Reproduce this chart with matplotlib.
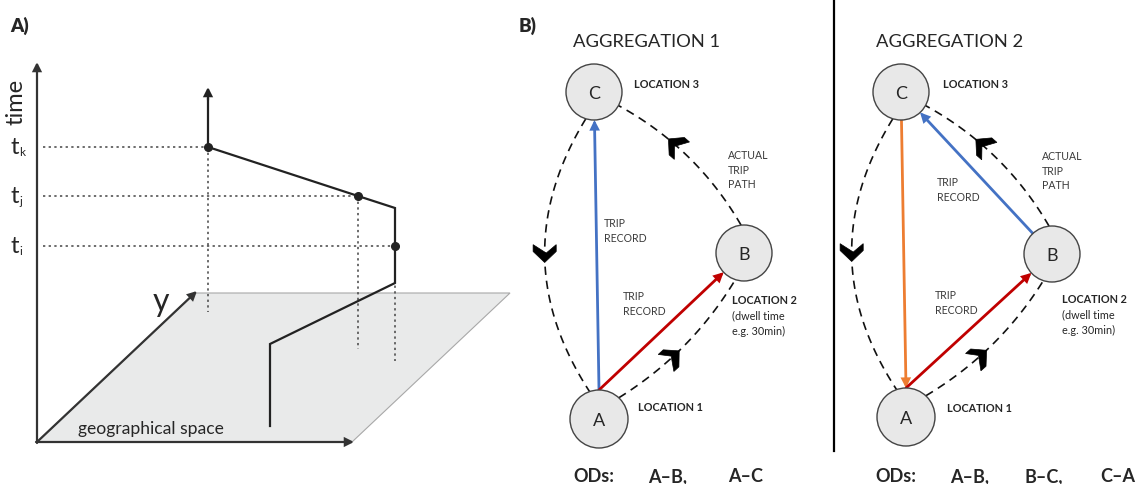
import numpy as np
import matplotlib
matplotlib.use("Agg")
import matplotlib.pyplot as plt
from matplotlib.patches import Circle, Polygon, FancyArrowPatch

plt.rcParams['font.family'] = ['Lato', 'DejaVu Sans']

# ---------------- content ----------------
panel_labels = ["A)", "B)"]
time_labels = ["k", "j", "i"]          # subscripts of t
agg_titles = ["AGGREGATION 1", "AGGREGATION 2"]
node_names = ["A", "B", "C"]
location_labels = {"A": ["LOCATION 1"], "B": ["LOCATION 2", "(dwell time", "e.g. 30min)"], "C": ["LOCATION 3"]}
path_label = ["ACTUAL", "TRIP", "PATH"]
record_label = ["TRIP", "RECORD"]
od_lists = [["ODs:", "A\u2013B,", "A\u2013C"], ["ODs:", "A\u2013B,", "B\u2013C,", "C\u2013A"]]
# trip records per aggregation: (origin, destination, colour)
trip_records = [[("A", "C", "#4472c4"), ("A", "B", "#c00000")],
                [("C", "A", "#ed7d31"), ("B", "C", "#4472c4"), ("A", "B", "#c00000")]]

W, H = 1138, 485
fig = plt.figure(figsize=(W / 100, H / 100), dpi=100)
ax = fig.add_axes([0, 0, 1, 1])
ax.set_xlim(0, W)
ax.set_ylim(H, 0)
ax.axis('off')

TXT = '#262626'

# ================= Panel A =================
ax.text(10, 26, panel_labels[0], fontsize=13.5, fontweight='heavy', color=TXT, va='center', ha='left')

# plane
plane = Polygon([(37, 443), (352, 443), (510, 294), (195, 294)], closed=True,
                facecolor='#e9eaea', edgecolor='#a8a8a8', lw=0.8, zorder=1)
ax.add_patch(plane)

axc = '#333333'
def arrow(p0, p1, color, lw, ms=12, z=3, style='-|>'):
    a = FancyArrowPatch(p0, p1, arrowstyle=style, mutation_scale=ms, color=color,
                        lw=lw, shrinkA=0, shrinkB=0, zorder=z, joinstyle='miter')
    ax.add_patch(a)

arrow((37, 444), (37, 63), axc, 1.6)
arrow((36, 443), (354, 443), axc, 1.6)
arrow((37, 443), (197, 292), axc, 1.6)

ax.text(16, 102, "time", fontsize=17, rotation=90, color=TXT, va='center', ha='center')
ax.text(161, 302, "y", fontsize=23, color=TXT, va='center', ha='center')
ax.text(78, 429, "geographical space", fontsize=12.6, color=TXT, va='center', ha='left')

# time marks
t_y = [148, 197, 247]
t_x = [208, 358, 395]
v_end = [313, 350, 362]
for lab, ty, tx, ve in zip(time_labels, t_y, t_x, v_end):
    ax.text(11, ty, "t", fontsize=17, color=TXT, va='center', ha='left')
    ax.text(19.5, ty + 5, lab, fontsize=8.5, color=TXT, va='center', ha='left')
    ax.plot([43, tx], [ty, ty], color='#444444', lw=1.1, ls=(0, (1.5, 2.2)), zorder=2)
    ax.plot([tx, tx], [ty, ve], color='#444444', lw=1.1, ls=(0, (1.5, 2.2)), zorder=2)

traj_x = [270, 270, 395, 395, 358, 208, 208]
traj_y = [427, 345, 284, 209, 197, 148, 100]
ax.plot(traj_x, traj_y, color='#222222', lw=1.6, zorder=4, solid_joinstyle='miter')
arrow((208, 101), (208, 88), '#222222', 1.6, ms=12, z=4)
ax.plot(t_x, t_y, 'o', color='#222222', ms=5.5, zorder=5)

# ================= Panel B =================
ax.text(519, 26, panel_labels[1], fontsize=13.5, fontweight='heavy', color=TXT, va='center', ha='left')
ax.plot([834, 834], [0, 452], color='black', lw=1.6)

layouts = [
    dict(title=(647, 42), nodes={"C": (594, 93, 28), "B": (744, 254, 28), "A": (599, 420, 29)},
         loc={"C": (634, 85), "B": (732, 301), "A": (638, 408)}, path=(728, 156),
         records=[(604, 224), (623, 297)], ods=[573, 648, 728], od_y=477),
    dict(title=(950, 42), nodes={"C": (901, 93, 28), "B": (1052, 255, 28), "A": (906, 418, 29)},
         loc={"C": (943, 85), "B": (1062, 300), "A": (947, 409)}, path=(1042, 157),
         records=[(937, 183), (935, 296)], ods=[875, 950, 1025, 1100], od_y=477),
]

def circ_pt(node, ang):
    x, y, r = node
    a = np.deg2rad(ang)
    return np.array([x + r * np.cos(a), y + r * np.sin(a)])

def edge_toward(node, p):
    x, y, r = node
    d = np.array(p, float) - np.array([x, y])
    d /= np.hypot(*d)
    return np.array([x, y]) + r * d

def bezier(p0, p2, bulge, n=80):
    p0, p2 = np.asarray(p0, float), np.asarray(p2, float)
    m = (p0 + p2) / 2
    d = p2 - p0
    perp = np.array([-d[1], d[0]]) / np.hypot(*d)
    c = m + perp * bulge
    t = np.linspace(0, 1, n)[:, None]
    pts = (1 - t) ** 2 * p0 + 2 * (1 - t) * t * c + t ** 2 * p2
    return pts, c

def bez_at(p0, c, p2, t):
    pt = (1 - t) ** 2 * p0 + 2 * (1 - t) * t * c + t ** 2 * p2
    tan = 2 * (1 - t) * (c - p0) + 2 * t * (p2 - c)
    return pt, tan / np.hypot(*tan)

def chevron(pt, direction, size=1.0):
    f = np.asarray(direction)
    s = np.array([-f[1], f[0]])
    local = [(-8, -11), (0, -1.5), (-8, 11), (-1.5, 11), (9, 0), (-1.5, -11)]
    verts = [pt + size * (a * f + b * s) for a, b in local]
    ax.add_patch(Polygon(verts, closed=True, facecolor='black', edgecolor='black', lw=0.5,
                         joinstyle='miter', zorder=6))

# dashed path definitions: (from, from_angle, to, to_angle, bulge, chevron t)
dashed = [("C", 107, "A", -109, 86, 0.49),
          ("A", -47, "B", 108, 20, 0.40),
          ("B", -96, "C", 29, 24, 0.60)]

for k, L in enumerate(layouts):
    N = L["nodes"]
    ax.text(L["title"][0], L["title"][1], agg_titles[k], fontsize=13.2, color=TXT, ha='center', va='center')
    # dashed actual path
    for fr, fa, to, ta, bul, tc in dashed:
        p0 = circ_pt(N[fr], fa)
        p2 = circ_pt(N[to], ta)
        pts, c = bezier(p0, p2, bul)
        ax.plot(pts[:, 0], pts[:, 1], color='#111111', lw=1.2, ls=(0, (5, 3.5)), zorder=2)
        pt, tan = bez_at(p0, c, p2, tc)
        chevron(pt, tan, 1.05)
    # trip records
    for o, d, col in trip_records[k]:
        if o == "A":
            start = circ_pt(N["A"], -90)
            end = edge_toward(N[d], start)
        elif d == "A":
            end = circ_pt(N["A"], -90)
            start = edge_toward(N[o], end)
        else:
            start = edge_toward(N[o], N[d][:2])
            end = edge_toward(N[d], N[o][:2])
        arrow(tuple(start), tuple(end), col, 2.0, ms=11, z=3)
    # nodes
    for nm in node_names:
        x, y, r = N[nm]
        ax.add_patch(Circle((x, y), r, facecolor='#e8e8e8', edgecolor='#444444', lw=1.0, zorder=7))
        ax.text(x, y + 1, nm, fontsize=13, color=TXT, ha='center', va='center', zorder=8)
    # location labels
    for nm in node_names:
        lx, ly = L["loc"][nm]
        for i, s in enumerate(location_labels[nm]):
            ax.text(lx, ly + 15 * i, s, fontsize=7.8, color=TXT,
                    fontweight='bold' if i == 0 else 'normal', ha='left', va='center')
    px, py = L["path"]
    for i, s in enumerate(path_label):
        ax.text(px, py + 14.5 * i, s, fontsize=7.6, color='#3a3a3a', ha='left', va='center')
    for rx, ry in L["records"]:
        for i, s in enumerate(record_label):
            ax.text(rx, ry + 15 * i, s, fontsize=7.6, color='#3a3a3a', ha='left', va='center')
    for xo, s in zip(L["ods"], od_lists[k]):
        ax.text(xo, L["od_y"], s, fontsize=13, fontweight='bold', color=TXT, ha='left', va='center')

fig.savefig("out.png", dpi=100)
